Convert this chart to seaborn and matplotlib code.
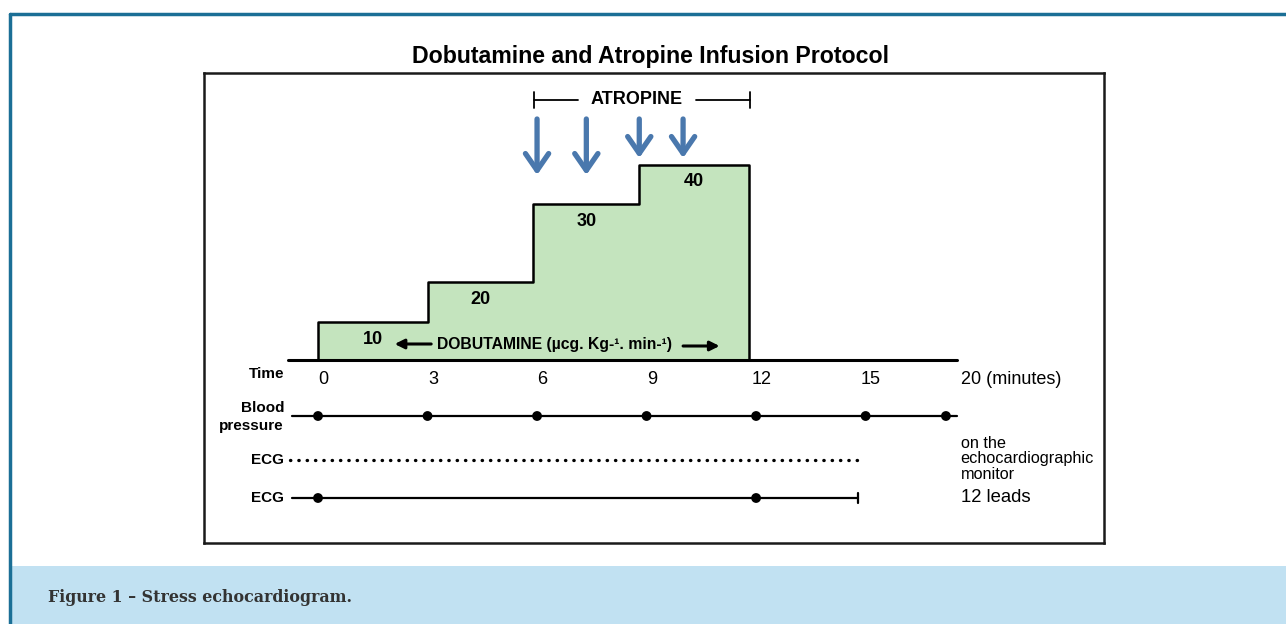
import matplotlib
matplotlib.use("Agg")
import matplotlib.pyplot as plt
import numpy as np
import pandas as pd
import seaborn as sns

# dobutamine steps (minutes) and drawn height of each dose level
step_times = [0, 3, 5.9, 8.8, 11.8]
step_heights = [38, 78, 156, 195]
doses = [10, 20, 30, 40]
atropine_times = [6.0, 7.35, 8.8, 10.0]
bp_times = [0, 3, 6, 9, 12, 15, 17.2]
ecg12_times = [0, 12]
time_ticks = [0, 3, 6, 9, 12, 15]
time_labels = ['0', '3', '6', '9', '12', '15']

sns.set_theme(style="white")
plt.rcParams['font.family'] = ['Liberation Sans', 'DejaVu Sans']
plt.rcParams['text.color'] = 'black'

fig = plt.figure(figsize=(12.86, 6.24), dpi=100)
W, H = 1286, 624

# page decorations: blue frame lines and caption band
fig.add_artist(plt.Line2D([10/W, 1], [1-14/H, 1-14/H], color='#1b6f96', lw=2.5))
fig.add_artist(plt.Line2D([10/W, 10/W], [0, 1-14/H], color='#1b6f96', lw=2.5))
fig.add_artist(plt.Rectangle((12/W, 0), 1, 58/H, color='#c1e1f2', lw=0))
fig.text(48/W, 1-597/H, 'Figure 1 – Stress echocardiogram.', family=['DejaVu Serif'],
         weight='bold', size=11.4, color='#333333', va='center')

ax = fig.add_axes([204/W, 81/H, 900/W, 470/H])
ax.set_xlim(-3.123, 21.53)
ax.set_ylim(-183, 287)
ax.set_xticks([]); ax.set_yticks([])
for s in ax.spines.values():
    s.set_color('#1a1a1a'); s.set_linewidth(1.8)

fig.text(651/W, 1-56/H, 'Dobutamine and Atropine Infusion Protocol', ha='center', va='center',
         weight='bold', size=16.7)

# step area
ax.fill_between(step_times, step_heights + [step_heights[-1]], step='post', color='#c4e4be', lw=0)
px, py = [step_times[0]], [0]
for i, h in enumerate(step_heights):
    px += [step_times[i], step_times[i+1]]
    py += [h, h]
px.append(step_times[-1]); py.append(0)
outline = pd.DataFrame({'t': px, 'y': py})
sns.lineplot(data=outline, x='t', y='y', sort=False, estimator=None, color='black', lw=1.8, ax=ax)

for i, d in enumerate(doses):
    xm = (step_times[i] + step_times[i+1]) / 2
    ax.text(xm, step_heights[i] - 17, str(d), ha='center', va='center', weight='bold', size=13)

# dobutamine label
ax.text(6.47, 16, 'DOBUTAMINE (µcg. Kg-¹. min-¹)', ha='center', va='center', weight='bold', size=11.3)
ax.annotate('', xy=(2.1, 16), xytext=(3.1, 16),
            arrowprops=dict(arrowstyle='-|>', color='black', lw=2.2, mutation_scale=14, shrinkA=0, shrinkB=0))
ax.annotate('', xy=(11.0, 14), xytext=(10.0, 14),
            arrowprops=dict(arrowstyle='-|>', color='black', lw=2.2, mutation_scale=14, shrinkA=0, shrinkB=0))

# atropine bracket and arrows
ab = (atropine_times[0] - 0.08, 11.84)
ax.plot([ab[0], 7.12], [260, 260], color='black', lw=1.3)
ax.plot([10.36, ab[1]], [260, 260], color='black', lw=1.3)
for xe in ab:
    ax.plot([xe, xe], [252, 268], color='black', lw=1.3)
ax.text(8.74, 260, 'ATROPINE', ha='center', va='center', weight='bold', size=13)
tips = [185, 185, 202, 202]
for t, tip in zip(atropine_times, tips):
    ax.annotate('', xy=(t, tip), xytext=(t, 241),
                arrowprops=dict(arrowstyle='->, head_length=0.55, head_width=0.38', color='#4a78ad',
                                lw=3.8, mutation_scale=22, shrinkA=0, shrinkB=0))

# time axis
ax.plot([-0.82, 17.5], [0, 0], color='black', lw=2.2)
ax.text(-0.93, -14, 'Time', ha='right', va='center', weight='bold', size=11)
for t, lab in zip(time_ticks, time_labels):
    ax.text(t + 0.15, -19, lab, ha='center', va='center', size=13)
ax.text(17.6, -19, '20 (minutes)', ha='left', va='center', size=13)

# blood pressure row
ax.plot([-0.71, 17.5], [-56, -56], color='black', lw=1.6)
bp = pd.DataFrame({'t': bp_times, 'y': -56})
sns.scatterplot(data=bp, x='t', y='y', color='black', s=50, edgecolor='none', ax=ax, zorder=3)
ax.text(-0.93, -57, 'Blood\npressure', ha='right', va='center', weight='bold', size=11, linespacing=1.3)

# ECG monitor row
ax.plot([-0.77, 14.8], [-100, -100], color='black', lw=2.4, linestyle=(0, (0.1, 2.4)),
        dash_capstyle='round')
ax.text(-0.93, -100, 'ECG', ha='right', va='center', weight='bold', size=11)
ax.text(17.6, -99, 'on the\nechocardiographic\nmonitor', ha='left', va='center', size=11.7, linespacing=1.05)

# ECG 12 leads row
ax.plot([-0.71, 14.8], [-138, -138], color='black', lw=1.6)
ax.plot([14.8, 14.8], [-133, -143], color='black', lw=1.6)
ecg = pd.DataFrame({'t': ecg12_times, 'y': -138})
sns.scatterplot(data=ecg, x='t', y='y', color='black', s=50, edgecolor='none', ax=ax, zorder=3)
ax.text(-0.93, -138, 'ECG', ha='right', va='center', weight='bold', size=11)
ax.text(17.6, -138, '12 leads', ha='left', va='center', size=13.3)

ax.set_xlabel(''); ax.set_ylabel('')
fig.savefig('out.png', dpi=100)
